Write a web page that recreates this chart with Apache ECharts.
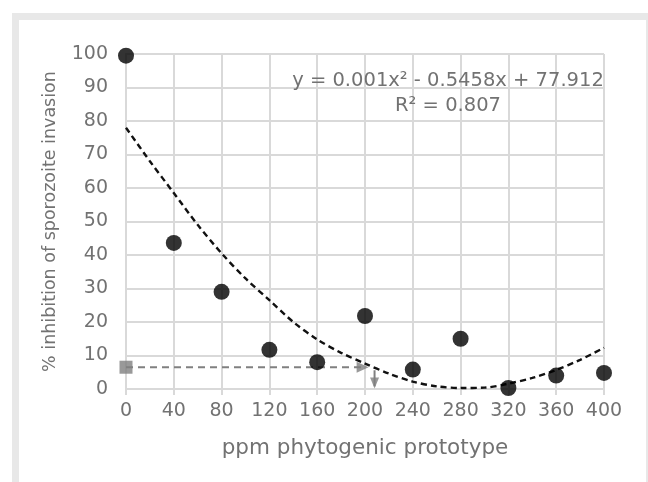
<!DOCTYPE html>
<html>
<head>
<meta charset="utf-8">
<script src="https://cdn.jsdelivr.net/npm/echarts@6/dist/echarts.min.js"></script>
<style>
html,body{margin:0;padding:0;background:#fff;}
#main{width:648px;height:482px;}
</style>
</head>
<body>
<div id="main"></div>
<script>
// Data
const xTicks = [0, 40, 80, 120, 160, 200, 240, 280, 320, 360, 400];
const doseX = [0, 40, 80, 120, 160, 200, 240, 280, 320, 360, 400];
const inhibition = [99.5, 43.6, 29, 11.7, 8, 21.8, 5.8, 15, 0.3, 4, 4.8];
const trendX = [0, 20, 40, 60, 80, 100, 120, 140, 160, 180, 200, 220, 240, 260, 280, 300, 320, 340, 360, 380, 400];
const trendY = [78, 68, 58.5, 49, 40.5, 33, 26.5, 20, 14.8, 10.8, 7.6, 4.6, 2.2, 0.8, 0.3, 0.4, 1.6, 3.3, 5.7, 8.7, 12.3];
const refLevel = 6.5;          // gray reference level on y
const refX = [0, 198];        // horizontal dashed arrow from / to
const dropX = 208;            // vertical arrow x
const dropY = [5.6, 0.8];     // vertical arrow from / to
const equation = 'y = 0.001x² - 0.5458x + 77.912';
const rSquared = 'R² = 0.807';
const xTitle = 'ppm phytogenic prototype';
const yTitle = '% inhibition of sporozoite invasion';

const FONT = '"DejaVu Sans"';
const TXT = '#727272';
const GRIDC = '#d9d9d9';
const ARROW = '#808080';

const chart = echarts.init(document.getElementById('main'), null, {renderer: 'canvas'});
chart.setOption({
  backgroundColor: '#ffffff',
  animation: false,
  graphic: [
    {type: 'rect', z: -10, shape: {x: 12, y: 13, width: 640, height: 480}, style: {fill: '#e8e8e8'}, silent: true},
    {type: 'rect', z: -9, shape: {x: 19, y: 20, width: 627, height: 470}, style: {fill: '#ffffff'}, silent: true}
  ],
  title: [
    {text: equation, left: 443, top: 66, textAlign: 'center',
     textStyle: {fontFamily: FONT, fontSize: 19.5, fontWeight: 'normal', color: TXT}},
    {text: rSquared, left: 443, top: 91, textAlign: 'center',
     textStyle: {fontFamily: FONT, fontSize: 19.5, fontWeight: 'normal', color: TXT}}
  ],
  grid: {left: 126, right: 44, top: 54, bottom: 93, containLabel: false},
  xAxis: {
    type: 'value', min: 0, max: 400, interval: 40,
    name: xTitle, nameLocation: 'middle', nameGap: 48,
    nameTextStyle: {fontFamily: FONT, fontSize: 21.5, color: TXT},
    axisLine: {show: true, lineStyle: {color: GRIDC, width: 2}},
    axisTick: {show: true, length: 6, lineStyle: {color: GRIDC, width: 2}},
    splitLine: {show: true, lineStyle: {color: GRIDC, width: 2}},
    axisLabel: {fontFamily: FONT, fontSize: 19, color: TXT, margin: 13,
      formatter: v => xTicks.includes(v) ? String(v) : ''}
  },
  yAxis: {
    type: 'value', min: 0, max: 100, interval: 10,
    name: yTitle, nameLocation: 'middle', nameGap: 67, nameRotate: 90,
    nameTextStyle: {fontFamily: FONT, fontSize: 17.5, color: TXT},
    axisLine: {show: true, lineStyle: {color: GRIDC, width: 2}},
    axisTick: {show: false},
    splitLine: {show: true, lineStyle: {color: GRIDC, width: 2}},
    axisLabel: {fontFamily: FONT, fontSize: 19, color: TXT, margin: 18}
  },
  series: [
    {
      type: 'line', name: 'trend', data: trendX.map((x, i) => [x, trendY[i]]),
      smooth: 0.3, symbol: 'none', z: 3,
      lineStyle: {color: '#111111', width: 2.4, type: [6, 4]}
    },
    {
      type: 'line', name: 'ref', data: refX.map(x => [x, refLevel]),
      symbol: 'none', z: 4,
      lineStyle: {color: ARROW, width: 2, type: [7, 5]}
    },
    {
      type: 'scatter', name: 'refStart', data: [[refX[0], refLevel]],
      symbol: 'rect', symbolSize: 13, z: 5, itemStyle: {color: ARROW}
    },
    {
      type: 'scatter', name: 'refHead', data: [[refX[1], refLevel]],
      symbol: 'triangle', symbolSize: [11, 12], symbolRotate: -90, z: 5,
      itemStyle: {color: ARROW}
    },
    {
      type: 'line', name: 'drop', data: dropY.map(y => [dropX, y]),
      symbol: 'none', z: 4, lineStyle: {color: ARROW, width: 2}
    },
    {
      type: 'scatter', name: 'dropHead', data: [[dropX, dropY[1] + 1]],
      symbol: 'triangle', symbolSize: [9, 11], symbolRotate: 180, z: 5,
      itemStyle: {color: ARROW}
    },
    {
      type: 'scatter', name: 'data', data: doseX.map((x, i) => [x, inhibition[i]]),
      symbol: 'circle', symbolSize: 16, z: 6,
      itemStyle: {color: '#000000'}
    }
  ]
});
</script>
</body>
</html>
